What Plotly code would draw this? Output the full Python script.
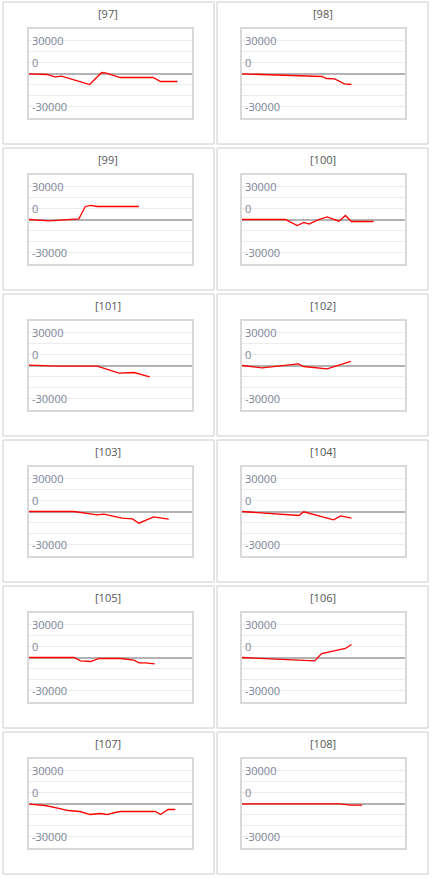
import plotly.graph_objects as go

# panel titles
labels = ["[97]", "[98]", "[99]", "[100]", "[101]", "[102]",
          "[103]", "[104]", "[105]", "[106]", "[107]", "[108]"]

# x positions (day index) and values for each panel
x97 = [0, 3.3, 4.8, 6, 9.4, 11.2, 13.4, 14.3, 16.8, 22.9, 24.3, 27.4]
y97 = [-300, -900, -3000, -2400, -7200, -9900, 900, 300, -3600, -3600, -7200, -7200]

x98 = [0, 2.6, 14.8, 15.6, 17.1, 18.9, 20.2]
y98 = [-300, -600, -2700, -4500, -4800, -9300, -9900]

x99 = [0, 3.7, 9.2, 10.4, 11.4, 12.6, 20.3]
y99 = [0, -1200, 600, 11700, 12600, 11700, 11700]

x100 = [0, 8.0, 10.2, 11.4, 12.4, 13.9, 15.7, 17.9, 19.1, 20.2, 24.3]
y100 = [0, 0, -5400, -2700, -4200, -600, 2400, -1500, 3600, -1800, -1800]

x101 = [0, 5.2, 12.6, 14.8, 16.6, 19.4, 22.3]
y101 = [300, -600, -600, -4200, -6900, -6300, -10200]

x102 = [0, 3.7, 10.4, 11.4, 15.7, 20.1]
y102 = [0, -2100, 1500, -900, -3000, 3600]

x103 = [0, 8.3, 12.6, 13.8, 17.2, 19.1, 20.3, 23.0, 25.8]
y103 = [0, 0, -3000, -2400, -6000, -6600, -10500, -4800, -6900]

x104 = [0, 10.5, 11.4, 12.9, 16.9, 18.2, 20.2]
y104 = [0, -3600, -300, -2400, -7500, -3900, -6000]

x105 = [0, 8.3, 9.5, 11.4, 12.9, 16.9, 19.4, 20.3, 21.5, 23.2]
y105 = [0, 0, -3000, -3600, -900, -900, -2400, -4800, -4800, -5700]

x106 = [0, 13.4, 14.7, 19.1, 20.2]
y106 = [0, -3000, 3600, 8100, 11700]

x107 = [0, 3.0, 5.7, 7.2, 9.4, 11.3, 13.1, 14.4, 15.9, 16.9, 23.3, 24.3, 25.7, 27.0]
y107 = [-500, -1800, -4500, -6300, -7200, -9900, -9000, -9900, -8100, -7200, -7200, -9900, -5400, -5400]

x108 = [0, 18.1, 20.0, 22.2]
y108 = [-300, -300, -1500, -1500]

# y tick labels as drawn in the reference (the "0" label sits one grid step up)
tick_vals = [30000, 10000, -30000]
tick_text = ["30000", "0", "-30000"]
grid_vals = [-30000, -20000, -10000, 10000, 20000, 30000]

xs = [x97, x98, x99, x100, x101, x102, x103, x104, x105, x106, x107, x108]
ys = [y97, y98, y99, y100, y101, y102, y103, y104, y105, y106, y107, y108]

W, H = 432, 878
font = "Open Sans, Verdana, sans-serif"

fig = go.Figure()
shapes = []
annotations = []

for i, (lab, xv, yv) in enumerate(zip(labels, xs, ys)):
    row, col = divmod(i, 2)
    n = "" if i == 0 else str(i + 1)

    # cell box
    cx0 = 3 if col == 0 else 217
    cx1 = 214 if col == 0 else 428
    cy0 = 2 + 146 * row
    cy1 = 144 + 146 * row
    shapes.append(dict(type="rect", xref="paper", yref="paper",
                       x0=cx0 / W, x1=cx1 / W, y0=1 - cy1 / H, y1=1 - cy0 / H,
                       line=dict(color="#cccccc", width=1), layer="below"))

    # plot area
    px0 = 29 if col == 0 else 242
    px1 = px0 + 162.5
    top = 29 + 146 * row
    bot = top + 89

    annotations.append(dict(text=lab, xref="paper", yref="paper",
                            x=(cx0 + cx1) / 2 / W, y=1 - (cy0 + 11) / H,
                            showarrow=False, xanchor="center", yanchor="middle",
                            font=dict(family=font, size=11, color="#555555")))

    # y labels drawn inside the plot area
    for tv, tt in zip(tick_vals, tick_text):
        annotations.append(dict(text=tt, xref="x" + n + " domain", yref="y" + n,
                                x=0, y=tv, xanchor="left", yanchor="middle",
                                xshift=1, showarrow=False,
                                font=dict(family=font, size=11, color="#7b8497")))

    fig.add_trace(go.Scatter(x=xv, y=yv, mode="lines", xaxis="x" + n, yaxis="y" + n,
                             line=dict(color="#ff0000", width=1.3), showlegend=False,
                             hoverinfo="skip"))

    fig.layout["xaxis" + n] = dict(
        domain=[px0 / W, px1 / W], anchor="y" + n, range=[0, 30],
        showgrid=False, zeroline=False, showticklabels=False, ticks="",
        showline=True, mirror=True, linecolor="#d9d9d9", linewidth=2,
        fixedrange=True)
    # grey line at 0 as the only major grid line, light minor grid; both below the trace
    fig.layout["yaxis" + n] = dict(
        domain=[1 - bot / H, 1 - top / H], anchor="x" + n, range=[-40000, 40000],
        tickvals=[0], showticklabels=False, ticks="",
        showgrid=True, gridcolor="#b3b3b3", gridwidth=2,
        minor=dict(tickvals=grid_vals, showgrid=True, gridcolor="#ececec", gridwidth=1),
        zeroline=False,
        showline=True, mirror=True, linecolor="#d9d9d9", linewidth=2,
        fixedrange=True)

fig.update_layout(
    width=W, height=H,
    margin=dict(l=0, r=0, t=0, b=0),
    paper_bgcolor="white", plot_bgcolor="white",
    shapes=shapes, annotations=annotations,
)

fig.write_html("out.html", config={"displayModeBar": False},
               post_script="document.body.style.margin='0';")
